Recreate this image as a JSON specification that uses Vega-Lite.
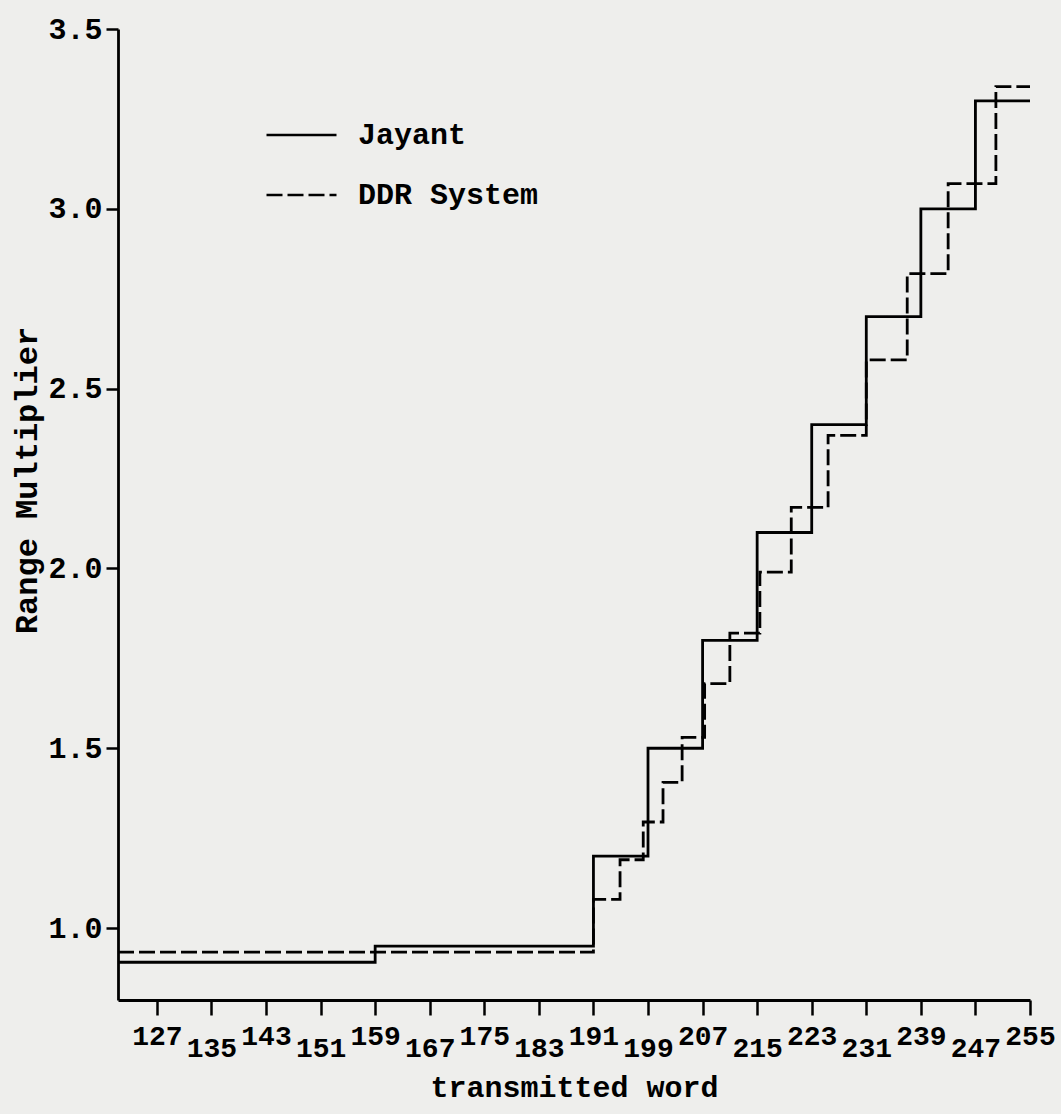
{
  "$schema": "https://vega.github.io/schema/vega-lite/v6.json",
  "width": 912,
  "height": 971,
  "autosize": "none",
  "padding": {"left": 118, "top": 29, "right": 31, "bottom": 114},
  "background": "#eeeeec",
  "config": {"view": {"stroke": null}, "font": "Liberation Mono"},
  "data": {
    "values": [
      {"system": "Jayant", "word": 121.3, "multiplier": 0.905},
      {"system": "Jayant", "word": 159, "multiplier": 0.95},
      {"system": "Jayant", "word": 191, "multiplier": 1.2},
      {"system": "Jayant", "word": 199, "multiplier": 1.5},
      {"system": "Jayant", "word": 207, "multiplier": 1.8},
      {"system": "Jayant", "word": 215, "multiplier": 2.1},
      {"system": "Jayant", "word": 223, "multiplier": 2.4},
      {"system": "Jayant", "word": 231, "multiplier": 2.7},
      {"system": "Jayant", "word": 239, "multiplier": 3.0},
      {"system": "Jayant", "word": 247, "multiplier": 3.3},
      {"system": "Jayant", "word": 255, "multiplier": 3.3},
      {"system": "DDR System", "word": 121.3, "multiplier": 0.933},
      {"system": "DDR System", "word": 191, "multiplier": 1.08},
      {"system": "DDR System", "word": 194.9, "multiplier": 1.19},
      {"system": "DDR System", "word": 198.3, "multiplier": 1.295},
      {"system": "DDR System", "word": 201.2, "multiplier": 1.405},
      {"system": "DDR System", "word": 204, "multiplier": 1.53},
      {"system": "DDR System", "word": 207.3, "multiplier": 1.68},
      {"system": "DDR System", "word": 211, "multiplier": 1.82},
      {"system": "DDR System", "word": 215.4, "multiplier": 1.99},
      {"system": "DDR System", "word": 220, "multiplier": 2.17},
      {"system": "DDR System", "word": 225.4, "multiplier": 2.37},
      {"system": "DDR System", "word": 231, "multiplier": 2.58},
      {"system": "DDR System", "word": 237, "multiplier": 2.82},
      {"system": "DDR System", "word": 243, "multiplier": 3.07},
      {"system": "DDR System", "word": 250, "multiplier": 3.34},
      {"system": "DDR System", "word": 255, "multiplier": 3.34}
    ]
  },
  "mark": {"type": "line", "interpolate": "step-after", "color": "black", "strokeWidth": 2.8},
  "encoding": {
    "x": {
      "field": "word",
      "type": "quantitative",
      "scale": {"domain": [121.3, 255], "nice": false, "zero": false},
      "axis": {
        "values": [127, 135, 143, 151, 159, 167, 175, 183, 191, 199, 207, 215, 223, 231, 239, 247, 255],
        "grid": false,
        "domainColor": "black",
        "domainWidth": 2.8,
        "tickColor": "black",
        "tickWidth": 2.5,
        "tickSize": 15,
        "labelFont": "Liberation Mono",
        "labelFontSize": 28,
        "labelFontWeight": "bold",
        "labelColor": "black",
        "labelFlush": false,
        "labelOverlap": false,
        "labelPadding": {"condition": {"test": "((datum.value - 127) / 8) % 2 === 1", "value": 19}, "value": 7},
        "title": "transmitted word",
        "titleFont": "Liberation Mono",
        "titleFontSize": 30,
        "titleFontWeight": "bold",
        "titleColor": "black",
        "titlePadding": 10
      }
    },
    "y": {
      "field": "multiplier",
      "type": "quantitative",
      "scale": {"domain": [0.8, 3.5], "nice": false, "zero": false},
      "axis": {
        "values": [1.0, 1.5, 2.0, 2.5, 3.0, 3.5],
        "format": ".1f",
        "grid": false,
        "domainColor": "black",
        "domainWidth": 2.8,
        "tickColor": "black",
        "tickWidth": 2.5,
        "tickSize": 12,
        "labelFont": "Liberation Mono",
        "labelFontSize": 30,
        "labelFontWeight": "bold",
        "labelColor": "black",
        "labelPadding": 4,
        "title": "Range Multiplier",
        "titleFont": "Liberation Mono",
        "titleFontSize": 32,
        "titleFontWeight": "bold",
        "titleColor": "black",
        "titlePadding": 4,
        "titleY": 451
      }
    },
    "strokeDash": {
      "field": "system",
      "type": "nominal",
      "scale": {"domain": ["Jayant", "DDR System"], "range": [[1, 0], [16, 5]]},
      "legend": {
        "orient": "none",
        "legendX": 147,
        "legendY": 86,
        "title": null,
        "symbolType": "stroke",
        "symbolSize": 4900,
        "symbolStrokeWidth": 2.5,
        "symbolStrokeColor": "black",
        "clipHeight": 40,
        "rowPadding": 20,
        "labelOffset": 20,
        "labelLimit": 500,
        "labelFont": "Liberation Mono",
        "labelFontSize": 30,
        "labelFontWeight": "bold",
        "labelColor": "black"
      }
    }
  }
}
